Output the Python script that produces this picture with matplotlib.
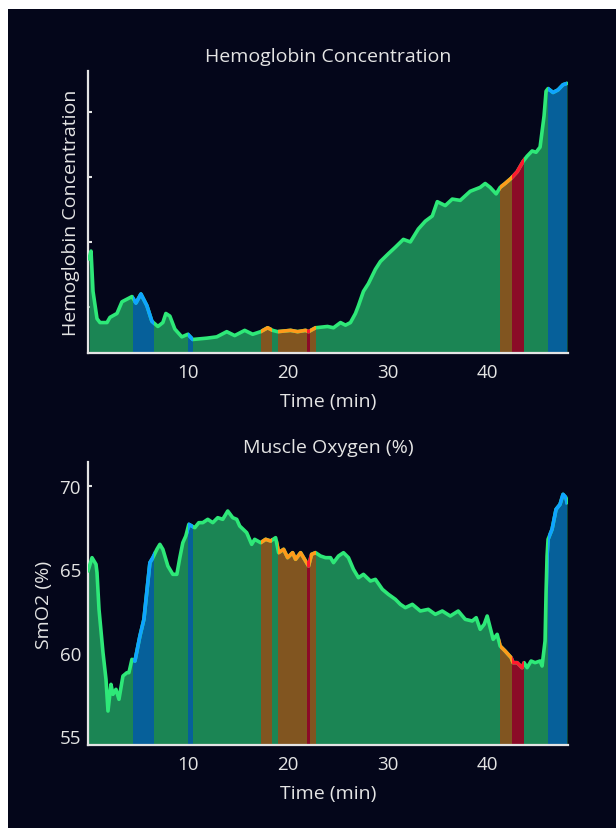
import numpy as np
import matplotlib.pyplot as plt
from matplotlib.patches import PathPatch, Rectangle

plt.rcParams['font.family'] = ['Open Sans', 'DejaVu Sans']

# Hemoglobin concentration (arbitrary g/dL-like units, tick labels hidden)
t_hb = [0.1, 0.3, 0.5, 0.9, 1.2, 1.9, 2.2, 2.9, 3.4, 4.4, 4.8, 5.3, 5.9, 6.4,
        7.0, 7.5, 7.8, 8.2, 8.7, 9.4, 10.0, 10.5, 11.9, 12.9, 13.9, 14.7,
        15.7, 16.5, 17.3, 18.0, 18.5, 19.0, 20.3, 21.0, 21.8, 22.1, 22.8,
        24.0, 24.6, 25.3, 25.8, 26.3, 26.8, 27.1, 27.6, 28.1, 28.8, 29.3,
        30.1, 30.8, 31.6, 32.3, 33.1, 33.8, 34.5, 35.0, 35.8, 36.5, 37.3,
        38.3, 39.3, 39.8, 40.3, 40.9, 41.3, 41.8, 42.4, 43.0, 43.6, 44.0,
        44.5, 44.9, 45.3, 45.5, 45.7, 45.9, 46.1, 46.6, 47.1, 47.6, 48.0]
hb = [11.87, 11.93, 11.62, 11.41, 11.38, 11.38, 11.42, 11.45, 11.54, 11.58,
      11.53, 11.60, 11.51, 11.39, 11.35, 11.38, 11.45, 11.43, 11.33, 11.27,
      11.29, 11.25, 11.26, 11.27, 11.31, 11.28, 11.32, 11.29, 11.31, 11.34,
      11.32, 11.31, 11.32, 11.31, 11.32, 11.31, 11.34, 11.35, 11.34, 11.38,
      11.36, 11.38, 11.45, 11.51, 11.62, 11.68, 11.79, 11.85, 11.91, 11.96,
      12.02, 12.00, 12.10, 12.16, 12.20, 12.31, 12.28, 12.33, 12.32, 12.39,
      12.42, 12.45, 12.42, 12.37, 12.42, 12.45, 12.49, 12.54, 12.62, 12.66,
      12.70, 12.69, 12.73, 12.85, 12.97, 13.16, 13.18, 13.15, 13.17, 13.21,
      13.22]

# Muscle oxygen saturation (%)
t_smo2 = [0.0, 0.4, 0.8, 0.9, 1.1, 1.5, 1.8, 2.0, 2.3, 2.5, 2.8, 3.1, 3.5,
          3.9, 4.1, 4.4, 4.7, 5.2, 5.6, 6.2, 6.5, 6.9, 7.2, 7.5, 8.0, 8.5,
          8.9, 9.2, 9.5, 9.8, 10.1, 10.7, 11.1, 11.5, 12.0, 12.5, 13.0, 13.5,
          14.0, 14.5, 14.9, 15.2, 15.9, 16.4, 16.7, 17.3, 17.8, 18.3, 18.8,
          19.1, 19.6, 20.0, 20.5, 20.8, 21.3, 21.8, 22.1, 22.4, 22.8, 23.3,
          23.8, 24.3, 24.6, 25.1, 25.6, 26.1, 26.6, 27.1, 27.6, 28.3, 28.8,
          29.5, 30.1, 30.8, 31.3, 31.8, 32.5, 33.3, 34.1, 34.8, 35.5, 36.3,
          37.1, 37.8, 38.5, 38.9, 39.3, 39.7, 40.0, 40.3, 40.6, 41.0, 41.3,
          41.8, 42.4, 42.6, 43.0, 43.5, 43.7, 44.0, 44.4, 44.8, 45.3, 45.5,
          45.8, 45.9, 46.0, 46.1, 46.5, 46.9, 47.3, 47.6, 47.9, 48.0]
smo2 = [64.9, 65.7, 65.3, 64.8, 62.6, 60.0, 58.4, 56.5, 58.1, 57.5, 57.8,
        57.2, 58.6, 58.8, 58.8, 59.6, 59.5, 61.0, 62.0, 65.4, 65.7, 66.2,
        66.5, 66.2, 65.2, 64.7, 64.7, 65.7, 66.6, 67.0, 67.7, 67.5, 67.8,
        67.8, 68.0, 67.8, 68.1, 68.0, 68.5, 68.1, 68.0, 67.6, 67.2, 66.5,
        66.8, 66.6, 66.8, 66.7, 66.9, 66.0, 66.2, 65.7, 66.0, 65.6, 66.0,
        65.5, 65.2, 65.9, 66.0, 65.8, 65.7, 65.7, 65.4, 65.8, 66.0, 65.7,
        65.0, 64.5, 64.7, 64.3, 64.4, 63.8, 63.5, 63.2, 62.9, 62.7, 62.9,
        62.5, 62.6, 62.3, 62.5, 62.2, 62.5, 62.0, 61.9, 62.1, 61.4, 61.7,
        62.2, 61.5, 60.8, 61.1, 60.4, 60.1, 59.7, 59.4, 59.4, 59.1, 59.4,
        59.1, 59.5, 59.4, 59.5, 59.2, 60.7, 63.6, 65.8, 66.8, 67.4, 68.6,
        68.9, 69.5, 69.3, 69.0]

# Intensity zones (minutes); everything else is green
zone_start = [4.5, 10.0, 17.3, 19.0, 21.9, 22.2, 41.3, 42.5, 46.1]
zone_end = [6.6, 10.5, 18.4, 21.9, 22.2, 22.8, 42.5, 43.7, 48.0]
zone_type = ['blue', 'blue', 'orange', 'orange', 'red', 'orange', 'orange', 'red', 'blue']

bg = '#04061a'
fg = '#e4e4e4'
line_col = {'green': '#2ee878', 'blue': '#0fa3ff', 'orange': '#ff9a1a', 'red': '#ff1a2e'}
fill_col = {'green': '#1b8554', 'blue': '#06609a', 'orange': '#815520', 'red': '#8b0b27'}
fsize = 14

fig = plt.figure(figsize=(6.16, 8.29), dpi=100, facecolor='white')
fig.patches.append(Rectangle((8 / 616, 0), 1, 1 - 10 / 829, transform=fig.transFigure,
                             facecolor=bg, edgecolor='none', zorder=-1))

ax1 = fig.add_axes([0.1429, 0.5730, 0.7792, 0.3401])
ax2 = fig.add_axes([0.1429, 0.1001, 0.7792, 0.3414])


def draw_panel(ax, t, v, ymin, ymax):
    ax.set_facecolor(bg)
    ax.set_xlim(0, 48.1)
    ax.set_ylim(ymin, ymax)
    base = ax.fill_between(t, v, ymin, color=fill_col['green'], lw=0, zorder=1)
    clip = PathPatch(base.get_paths()[0], transform=ax.transData, fc='none', ec='none')
    ax.plot(t, v, color=line_col['green'], lw=2.6, zorder=3, solid_capstyle='round')
    for s, e, kind in zip(zone_start, zone_end, zone_type):
        span = ax.axvspan(s, e, color=fill_col[kind], lw=0, zorder=2)
        span.set_clip_path(clip)
        box = Rectangle((s, ymin), e - s, ymax - ymin, transform=ax.transData,
                        fc='none', ec='none')
        ln, = ax.plot(t, v, color=line_col[kind], lw=2.6, zorder=4)
        ln.set_clip_path(box)

    ax.set_axisbelow(True)
    for side in ['top', 'right']:
        ax.spines[side].set_visible(False)
    for side in ['left', 'bottom']:
        ax.spines[side].set_color(fg)
        ax.spines[side].set_linewidth(1.6)
    ax.set_xticks([10, 20, 30, 40])
    ax.tick_params(colors=fg, direction='in', length=3, width=1.5, labelsize=fsize - 0.5)
    ax.tick_params(axis='x', pad=7)
    ax.tick_params(axis='y', pad=5)
    ax.set_xlabel('Time (min)', color=fg, fontsize=fsize, labelpad=8)


draw_panel(ax1, t_hb, hb, 11.146, 13.315)
ax1.set_yticks([11.5, 12.0, 12.5, 13.0])
ax1.tick_params(axis='y', labelleft=False)
ax1.set_title('Hemoglobin Concentration', color=fg, fontsize=fsize, pad=7)
ax1.set_ylabel('Hemoglobin Concentration', color=fg, fontsize=fsize, labelpad=6)

draw_panel(ax2, t_smo2, smo2, 54.46, 71.44)
ax2.set_yticks([55, 60, 65, 70])
ax2.set_title('Muscle Oxygen (%)', color=fg, fontsize=fsize, pad=7)
ax2.set_ylabel('SmO2 (%)', color=fg, fontsize=fsize, labelpad=5)

fig.savefig('out.png', dpi=100, facecolor=fig.get_facecolor())
